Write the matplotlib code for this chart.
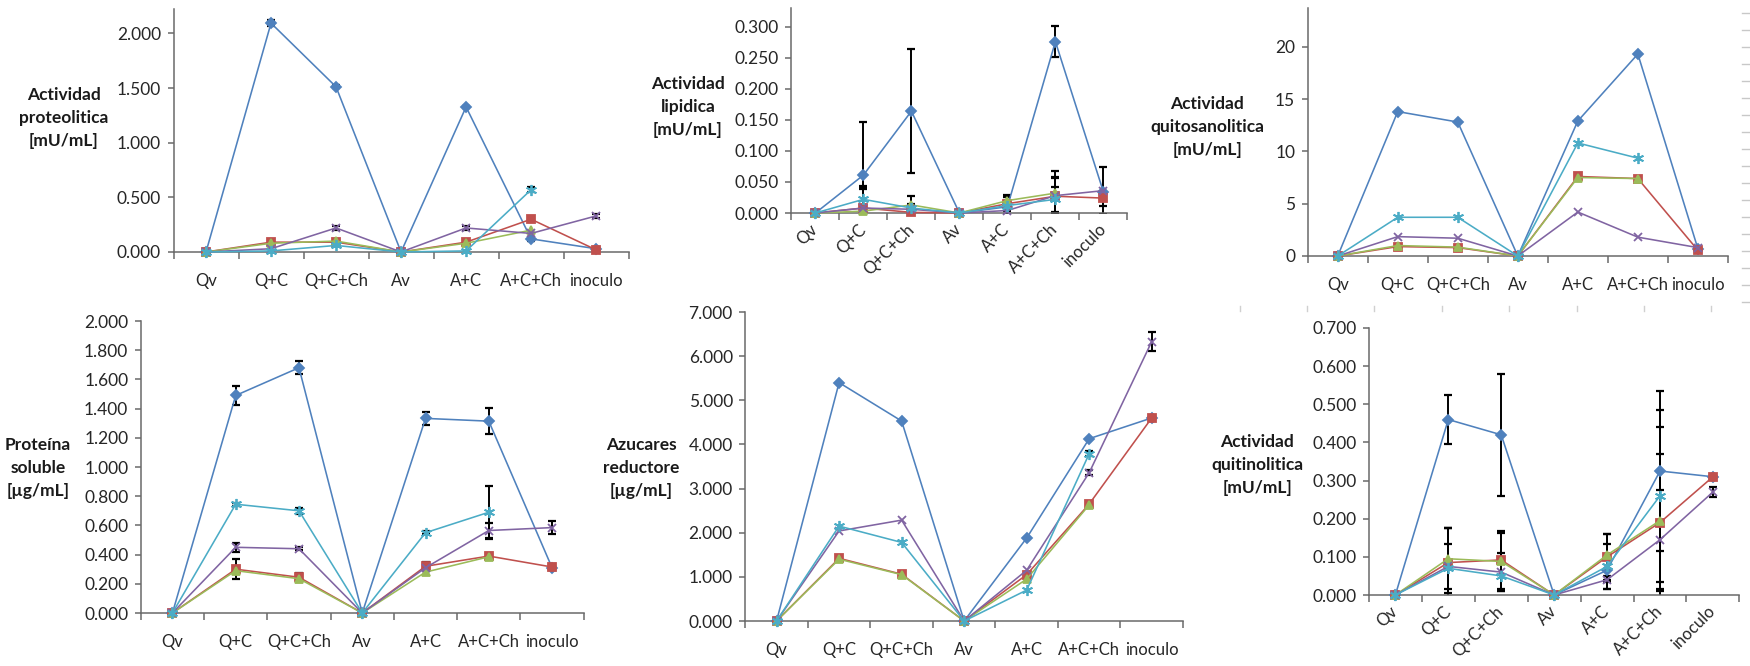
import numpy as np
import matplotlib.pyplot as plt
from matplotlib.lines import Line2D

plt.rcParams['font.family'] = ['Lato', 'DejaVu Sans']

nan = np.nan
categorias = ['Qv', 'Q+C', 'Q+C+Ch', 'Av', 'A+C', 'A+C+Ch', 'inoculo']

# Actividad proteolitica [mU/mL]
proteo_s1 = [0, 2.095, 1.512, 0, 1.328, 0.12, 0.03]
proteo_s2 = [0, 0.09, 0.09, 0, 0.09, 0.30, 0.02]
proteo_s3 = [0, 0.08, 0.10, 0, 0.08, 0.20, nan]
proteo_s4 = [0, 0.03, 0.22, 0, 0.22, 0.17, 0.33]
proteo_s5 = [0, 0.01, 0.06, 0, 0.01, 0.57, nan]
proteo_e1 = [0, 0.03, 0.015, 0, 0.012, 0.02, 0]
proteo_e4 = [0, 0, 0.02, 0, 0.015, 0, 0.015]
proteo_e5 = [0, 0, 0, 0, 0, 0.025, 0]

# Actividad lipidica [mU/mL]
lipid_s1 = [0, 0.061, 0.164, 0, 0.010, 0.276, 0.034]
lipid_s2 = [0, 0.008, 0.001, 0, 0.015, 0.027, 0.024]
lipid_s3 = [0, 0.003, 0.013, 0, 0.020, 0.032, nan]
lipid_s4 = [0, 0.008, 0.006, 0, 0.004, 0.028, 0.036]
lipid_s5 = [0, 0.022, 0.008, 0, 0.012, 0.022, nan]
lipid_e1 = [0, 0.085, 0.10, 0, 0.019, 0.025, 0]
lipid_e2 = [0, 0.03, 0.004, 0, 0.01, 0.03, 0.012]
lipid_e3 = [0, 0.004, 0.014, 0, 0.008, 0.035, 0]
lipid_e4 = [0, 0.035, 0.005, 0, 0.005, 0.03, 0.038]
lipid_e5 = [0, 0.02, 0.006, 0, 0.008, 0.02, 0]

# Actividad quitosanolitica [mU/mL]
quitos_s1 = [0, 13.8, 12.8, 0, 12.9, 19.3, 0.7]
quitos_s2 = [0, 0.9, 0.8, 0, 7.6, 7.4, 0.55]
quitos_s3 = [0, 1.0, 0.85, 0, 7.5, 7.4, nan]
quitos_s4 = [0, 1.85, 1.7, 0, 4.2, 1.8, 0.8]
quitos_s5 = [0, 3.7, 3.7, 0, 10.8, 9.35, nan]

# Proteina soluble [ug/mL]
prot_s1 = [0, 1.49, 1.68, 0, 1.333, 1.314, 0.31]
prot_s2 = [0, 0.30, 0.245, 0, 0.32, 0.39, 0.315]
prot_s3 = [0, 0.29, 0.235, 0, 0.28, 0.385, nan]
prot_s4 = [0, 0.45, 0.44, 0, 0.31, 0.565, 0.585]
prot_s5 = [0, 0.745, 0.70, 0, 0.55, 0.69, nan]
prot_e1 = [0, 0.065, 0.045, 0, 0.045, 0.09, 0]
prot_e2 = [0, 0.07, 0.03, 0, 0.03, 0.02, 0.02]
prot_e4 = [0, 0.03, 0.01, 0, 0, 0.05, 0.045]
prot_e5 = [0, 0.01, 0.02, 0, 0.01, 0.18, 0]

# Azucares reductores [ug/mL]
azuc_s1 = [0, 5.40, 4.53, 0, 1.88, 4.13, 4.60]
azuc_s2 = [0, 1.42, 1.06, 0, 1.05, 2.65, 4.60]
azuc_s3 = [0, 1.40, 1.05, 0, 0.95, 2.63, nan]
azuc_s4 = [0, 2.04, 2.285, 0, 1.15, 3.36, 6.33]
azuc_s5 = [0, 2.15, 1.78, 0, 0.70, 3.79, nan]
azuc_e4 = [0, 0, 0, 0, 0, 0.05, 0.22]
azuc_e5 = [0, 0, 0, 0, 0, 0.06, 0]

# Actividad quitinolitica [mU/mL]
quitin_s1 = [0, 0.46, 0.42, 0, 0.065, 0.325, 0.31]
quitin_s2 = [0, 0.085, 0.092, 0, 0.10, 0.19, 0.31]
quitin_s3 = [0, 0.095, 0.088, 0, 0.105, 0.195, nan]
quitin_s4 = [0, 0.075, 0.06, 0, 0.04, 0.145, 0.27]
quitin_s5 = [0, 0.07, 0.05, 0, 0.075, 0.26, nan]
quitin_e1 = [0, 0.065, 0.16, 0, 0.03, 0.21, 0]
quitin_e2 = [0, 0.09, 0.075, 0, 0.06, 0.18, 0]
quitin_e3 = [0, 0.08, 0.075, 0, 0.055, 0.245, 0]
quitin_e4 = [0, 0.10, 0.05, 0, 0.025, 0.13, 0.012]
quitin_e5 = [0, 0.065, 0.04, 0, 0.06, 0.225, 0]

# colores y marcadores de las 5 series (paleta clasica de Excel)
colores = ['#4F81BD', '#C0504D', '#9BBB59', '#8064A2', '#4BACC6']
marcadores = ['D', 's', '^', 'x', (6, 2, 0)]
tam_marcador = [5, 6, 6, 6, 8]

COLOR_EJE = '#6a6a6a'
COLOR_TEXTO = '#262626'


def panel(fig, rect, series, errores, ymax, yticks, fmt, etiqueta, pos_etiqueta, rotar=False):
    ax = fig.add_axes(rect)
    x = np.arange(len(categorias))
    for i, s in enumerate(series):
        e = errores[i]
        if e is not None:
            e = np.array(e, dtype=float)
            m = e > 0
            ax.errorbar(x[m], np.array(s, dtype=float)[m], yerr=e[m], fmt='none',
                        ecolor='black', elinewidth=1.4, capsize=3, capthick=1.6, zorder=2)
        ax.plot(x, s, color=colores[i], marker=marcadores[i], markersize=tam_marcador[i],
                markerfacecolor=colores[i], markeredgecolor=colores[i], markeredgewidth=1.3,
                linewidth=1.15, zorder=3 + i * 0.1, clip_on=False)

    ax.set_xlim(-0.5, len(categorias) - 0.5)
    ax.set_ylim(0, ymax)
    ax.set_yticks(yticks)
    ax.set_yticklabels([fmt.format(v) for v in yticks])
    ax.set_xticks(x)
    ax.set_xticks(np.arange(-0.5, len(categorias)), minor=True)
    ax.tick_params(axis='x', which='minor', length=5, color=COLOR_EJE, width=1.1, direction='out')
    ax.tick_params(axis='y', which='major', length=4, color=COLOR_EJE, width=1.1,
                   direction='out', pad=5, labelsize=12.5, labelcolor=COLOR_TEXTO)
    if rotar:
        ax.tick_params(axis='x', which='major', length=0, pad=10, labelsize=12, labelcolor=COLOR_TEXTO)
        ax.set_xticklabels(categorias, rotation=45, ha='right', va='center', rotation_mode='anchor')
    else:
        ax.tick_params(axis='x', which='major', length=0, pad=15, labelsize=12, labelcolor=COLOR_TEXTO)
        ax.set_xticklabels(categorias)

    for lado in ['top', 'right']:
        ax.spines[lado].set_visible(False)
    for lado in ['left', 'bottom']:
        ax.spines[lado].set_color(COLOR_EJE)
        ax.spines[lado].set_linewidth(1.1)
    ax.patch.set_alpha(0)

    fig.text(pos_etiqueta[0], pos_etiqueta[1], etiqueta, ha='center', va='center',
             fontsize=12.5, fontweight='bold', color='#1a1a1a', linespacing=1.55,
             multialignment='center')
    return ax


fig = plt.figure(figsize=(17.5, 6.66), dpi=100)
W, H = 1750, 666


def caja(izq, der, base, tope):
    return [izq / W, 1 - base / H, (der - izq) / W, (base - tope) / H]


panel(fig, caja(173.5, 628.6, 252, 9),
      [proteo_s1, proteo_s2, proteo_s3, proteo_s4, proteo_s5],
      [proteo_e1, None, None, proteo_e4, proteo_e5],
      (252 - 9) / (252 - 33.5) * 2.0, [0, 0.5, 1.0, 1.5, 2.0], '{:.3f}',
      'Actividad\nproteolitica\n[mU/mL]', (64 / W, 1 - 118 / H))

panel(fig, caja(791.4, 1127.4, 213, 8),
      [lipid_s1, lipid_s2, lipid_s3, lipid_s4, lipid_s5],
      [lipid_e1, lipid_e2, lipid_e3, lipid_e4, lipid_e5],
      (213 - 8) / (213 - 26.7) * 0.3, [0, 0.05, 0.10, 0.15, 0.20, 0.25, 0.30], '{:.3f}',
      'Actividad\nlipidica\n[mU/mL]', (688 / W, 1 - 107 / H), rotar=True)

panel(fig, caja(1307.7, 1727.9, 256, 8),
      [quitos_s1, quitos_s2, quitos_s3, quitos_s4, quitos_s5],
      [None] * 5,
      (256 - 8) / (256 - 46.7) * 20, [0, 5, 10, 15, 20], '{:.0f}',
      'Actividad\nquitosanolitica\n[mU/mL]', (1207 / W, 1 - 127 / H))

panel(fig, caja(140.8, 583.7, 613, 321),
      [prot_s1, prot_s2, prot_s3, prot_s4, prot_s5],
      [prot_e1, prot_e2, None, prot_e4, prot_e5],
      2.0, np.arange(0, 2.01, 0.2), '{:.3f}',
      'Proteína\nsoluble\n[µg/mL]', (38 / W, 1 - 468 / H))

panel(fig, caja(745.3, 1183, 621, 312),
      [azuc_s1, azuc_s2, azuc_s3, azuc_s4, azuc_s5],
      [None, None, None, azuc_e4, azuc_e5],
      7.0, np.arange(0, 7.01, 1.0), '{:.3f}',
      'Azucares\nreductore\n[µg/mL]', (641 / W, 1 - 468 / H))

panel(fig, caja(1368.9, 1739.4, 595, 328),
      [quitin_s1, quitin_s2, quitin_s3, quitin_s4, quitin_s5],
      [quitin_e1, quitin_e2, quitin_e3, quitin_e4, quitin_e5],
      0.7, np.arange(0, 0.701, 0.1), '{:.3f}',
      'Actividad\nquitinolitica\n[mU/mL]', (1257 / W, 1 - 465 / H), rotar=True)

# restos de marcas de otro grafico en el borde derecho y bajo el panel superior derecho
for yy in np.arange(13, 305, 17):
    fig.add_artist(Line2D([1742 / W, 1750 / W], [1 - yy / H] * 2, color='#c8c8c8', lw=1,
                          transform=fig.transFigure))
for xx in [1240, 1307, 1374, 1442, 1509, 1577, 1644, 1711]:
    fig.add_artist(Line2D([xx / W] * 2, [1 - 306 / H, 1 - 311 / H], color='#d0d0d0', lw=1,
                          transform=fig.transFigure))

fig.savefig('out.png', dpi=100, facecolor='white')
